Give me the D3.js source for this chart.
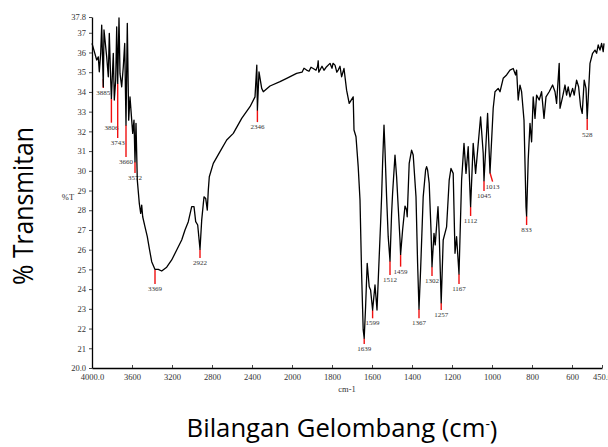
<!DOCTYPE html>
<html>
<head>
<meta charset="utf-8">
<script src="https://cdnjs.cloudflare.com/ajax/libs/d3/7.8.5/d3.min.js"></script>
<style>
	body { margin: 0; background: #fff; }
	.tick text { font-family: "Liberation Serif", serif; fill: #333; }
</style>
</head>
<body>
<div id="visualization"></div>
<script>
// ==================================================
// DATA
// ==================================================

// Spectrum [wavenumber cm-1, %T]
var spectrum = [
	[4000,36.46],[3953,35.62],[3937,35.78],[3927,35.02],[3913,35.96],[3903,37.39],[3887,34.26],[3880,37.14],
	[3853,35.78],[3837,34.77],[3827,36.97],[3813,34.60],[3806,33.67],[3787,35.96],[3777,33.59],[3763,34.60],
	[3753,37.30],[3743,34.43],[3730,37.75],[3720,34.94],[3703,34.26],[3687,35.28],[3673,36.46],[3660,32.32],
	[3647,37.48],[3633,32.57],[3620,33.75],[3603,32.57],[3593,31.90],[3580,32.57],[3570,30.46],[3560,32.41],
	[3547,29.53],[3527,28.35],[3513,27.84],[3503,28.26],[3493,27.67],[3470,27.16],[3447,26.66],[3427,26.07],
	[3403,25.39],[3370,25.00],[3337,25.00],[3303,24.92],[3253,25.11],[3203,25.48],[3153,25.98],[3103,26.49],
	[3070,27.00],[3037,27.42],[3003,28.18],[2980,28.18],[2963,27.42],[2943,27.25],[2920,26.02],[2903,27.50],
	[2880,28.68],[2863,28.60],[2847,28.01],[2837,29.02],[2827,29.70],[2787,30.38],[2720,30.97],[2653,31.56],
	[2587,31.90],[2503,32.66],[2420,33.25],[2370,33.75],[2352,35.36],[2346,33.08],[2330,35.02],[2303,34.18],
	[2287,34.01],[2220,34.30],[2120,34.52],[2053,34.69],[1977,34.94],[1950,35.00],[1940,35.20],[1927,35.11],
	[1915,35.05],[1905,35.25],[1894,35.19],[1880,35.10],[1872,35.30],[1869,35.58],[1866,35.00],[1850,35.30],
	[1840,35.10],[1827,35.28],[1810,35.45],[1800,35.20],[1795,35.45],[1785,35.36],[1776,35.00],[1769,35.11],
	[1760,35.30],[1752,34.77],[1740,35.19],[1727,34.09],[1714,33.42],[1694,33.75],[1690,32.07],[1680,31.73],
	[1669,30.21],[1660,28.52],[1652,24.80],[1644,21.93],[1639,21.51],[1632,23.11],[1624,25.31],[1614,24.12],
	[1607,23.95],[1597,22.94],[1585,24.21],[1575,22.94],[1564,25.64],[1557,27.34],[1552,28.68],[1547,30.38],
	[1540,32.32],[1535,31.05],[1527,28.68],[1519,26.66],[1510,25.43],[1502,27.84],[1497,28.86],[1485,30.80],
	[1477,29.70],[1469,28.18],[1460,26.49],[1457,25.76],[1447,27.00],[1435,28.21],[1427,28.01],[1424,27.67],
	[1414,30.38],[1402,31.05],[1394,30.80],[1380,28.68],[1372,25.31],[1365,22.99],[1357,24.97],[1344,28.68],
	[1332,30.04],[1327,30.21],[1322,30.04],[1314,29.36],[1305,27.00],[1300,25.14],[1290,26.83],[1284,26.24],
	[1270,28.18],[1264,26.83],[1254,23.31],[1244,26.49],[1227,27.16],[1214,29.53],[1205,30.12],[1194,29.87],
	[1185,25.82],[1177,26.66],[1165,24.77],[1152,29.53],[1140,31.39],[1130,29.87],[1119,31.22],[1107,28.18],
	[1094,31.39],[1082,29.87],[1057,32.74],[1044,30.89],[1040,29.50],[1022,32.91],[1010,29.90],[994,33.17],
	[985,34.01],[969,34.18],[960,34.01],[944,34.69],[927,34.86],[910,35.11],[894,35.19],[882,34.86],
	[877,35.11],[869,33.59],[860,34.35],[852,34.01],[840,32.57],[830,28.18],[827,27.71],[819,30.55],
	[810,32.41],[802,31.47],[794,33.75],[785,32.66],[777,33.84],[764,33.59],[752,34.01],[740,32.66],
	[730,33.75],[714,34.01],[697,34.35],[685,34.01],[677,33.42],[664,35.45],[660,33.17],[647,33.75],
	[635,34.35],[627,33.84],[619,34.26],[610,33.75],[597,34.18],[589,33.84],[577,34.60],[567,34.26],
	[557,33.25],[549,32.91],[539,34.60],[530,34.18],[524,32.66],[510,35.45],[497,35.96],[485,36.12],
	[477,35.96],[469,36.38],[460,36.12],[452,36.46],[444,36.04],[440,36.46]
];

// Peak annotations
var peakLabels = ["3885", "3806", "3743", "3660", "3572", "3369", "2922", "2346", "1639", "1599", "1512",
                  "1459", "1367", "1302", "1257", "1167", "1112", "1045", "1013", "833", "528"];
var peakWn     = [3887, 3806, 3743, 3660, 3570, 3370, 2920, 2346, 1639, 1597, 1510,
                  1457, 1365, 1300, 1254, 1165, 1107, 1040, 1010, 827, 524];
var peakEndWn  = [3887, 3806, 3743, 3660, 3570, 3370, 2920, 2346, 1639, 1597, 1510,
                  1457, 1365, 1300, 1254, 1165, 1107, 1040, 997, 827, 524];
var peakTop    = [34.65, 33.67, 34.43, 32.32, 30.46, 24.97, 26.02, 33.08, 21.51, 22.94, 25.43,
                  25.76, 22.99, 25.14, 23.31, 24.77, 28.18, 29.50, 29.90, 27.71, 32.66];
var peakEnd    = [34.20, 32.44, 31.66, 30.70, 29.89, 24.26, 25.58, 32.47, 21.22, 22.52, 24.72,
                  25.14, 22.52, 24.66, 22.94, 24.26, 27.71, 28.97, 29.45, 27.25, 32.07];

// Axis ticks
var xTicks = [4000, 3600, 3200, 2800, 2400, 2000, 1800, 1600, 1400, 1200, 1000, 800, 600, 450];
var yTicks = [20, 21, 22, 23, 24, 25, 26, 27, 28, 29, 30, 31, 32, 33, 34, 35, 36, 37, 37.8];


// ==================================================
// CANVAS
// ==================================================

var W = 608, H = 447;

var svg = d3.select("#visualization")
	.append("svg")
		.attr("width", W)
		.attr("height", H);

// Scales (IR style: scale doubles below 2000 cm-1)
var x = d3.scaleLinear()
	.domain([4000, 2000, 450])
	.range([92, 292, 602]);

var y = d3.scaleLinear()
	.domain([20, 37.8])
	.range([368, 17]);


// ==================================================
// AXES
// ==================================================

var xAxis = svg.append("g")
	.attr("transform", "translate(0," + y(20) + ")")
	.call(d3.axisBottom(x)
		.tickValues(xTicks)
		.tickSize(-3)
		.tickSizeOuter(0)
		.tickPadding(6)
		.tickFormat(function(d) { return (d == 4000 || d == 450) ? d.toFixed(1) : d; }));

var yAxis = svg.append("g")
	.attr("transform", "translate(" + x(4000) + ",0)")
	.call(d3.axisLeft(y)
		.tickValues(yTicks)
		.tickSize(3)
		.tickSizeOuter(0)
		.tickPadding(3)
		.tickFormat(function(d) { return d == 20 ? "20.0" : d; }));

svg.selectAll(".domain").attr("stroke", "#000").attr("stroke-width", 1.3);
svg.selectAll(".tick line").attr("stroke", "#444");
svg.selectAll(".tick text").attr("font-size", "8.5px");

// small labels
svg.append("text")
	.attr("x", 68).attr("y", 200)
	.attr("text-anchor", "middle")
	.attr("font-family", "Liberation Serif, serif")
	.attr("font-size", "8.5px")
	.attr("fill", "#333")
	.text("%T");

svg.append("text")
	.attr("x", (x(4000) + x(450)) / 2).attr("y", 392)
	.attr("text-anchor", "middle")
	.attr("font-family", "Liberation Serif, serif")
	.attr("font-size", "8.5px")
	.attr("fill", "#333")
	.text("cm-1");


// ==================================================
// SPECTRUM
// ==================================================

var line = d3.line()
	.x(function(d) { return x(d[0]); })
	.y(function(d) { return y(d[1]); });

// peak markers
var peaks = svg.append("g")
	.selectAll("g")
	.data(peakLabels)
	.enter()
		.append("g");

peaks.append("line")
	.attr("x1", function(d, i) { return x(peakWn[i]); })
	.attr("x2", function(d, i) { return x(peakEndWn[i]); })
	.attr("y1", function(d, i) { return y(peakTop[i]); })
	.attr("y2", function(d, i) { return y(peakEnd[i]); })
	.attr("stroke", "#f01010")
	.attr("stroke-width", 1.4);

svg.append("path")
	.datum(spectrum)
	.attr("fill", "none")
	.attr("stroke", "#000")
	.attr("stroke-width", 1.3)
	.attr("stroke-linejoin", "round")
	.attr("d", line);

peaks.append("text")
	.attr("x", function(d, i) { return x(peakEndWn[i]); })
	.attr("y", function(d, i) { return y(peakEnd[i]) + 2; })
	.attr("dy", "0.72em")
	.attr("text-anchor", "middle")
	.attr("font-family", "Liberation Serif, serif")
	.attr("font-size", "7px")
	.attr("fill", "#333")
	.text(function(d) { return d; });


// ==================================================
// TITLES
// ==================================================

// fit a text element to a given width
function fitWidth(sel, cx, cy, target, angle) {
	var w = sel.node().getBBox().width;
	sel.attr("transform", "translate(" + cx + "," + cy + ") rotate(" + angle + ") scale(" + (target / w) + ",1)");
}

var xTitle = svg.append("text")
	.attr("text-anchor", "middle")
	.attr("font-family", "Open Sans, sans-serif")
	.attr("font-size", "26px")
	.attr("fill", "#000");
xTitle.append("tspan").text("Bilangan Gelombang (cm");
xTitle.append("tspan").attr("dy", "-0.6em").attr("font-size", "14px").text("-");
xTitle.append("tspan").attr("dy", "0.4em").text(")");
fitWidth(xTitle, 342, 437, 311, 0);

var yTitle = svg.append("text")
	.attr("text-anchor", "middle")
	.attr("font-family", "Open Sans, sans-serif")
	.attr("font-size", "27px")
	.attr("fill", "#000")
	.text("% Transmitan");
fitWidth(yTitle, 33, 206, 158, -90);
</script>
</body>
</html>
